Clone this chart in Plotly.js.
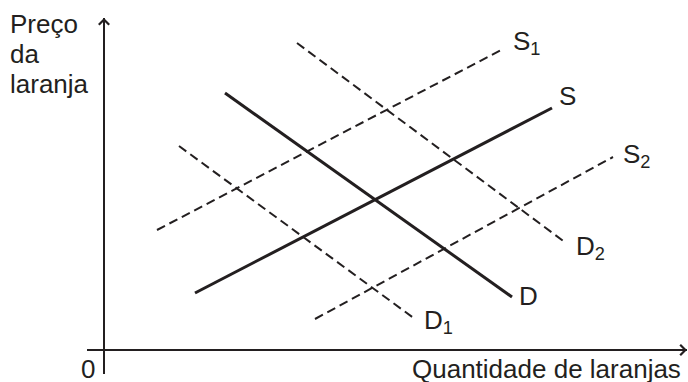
<!DOCTYPE html>
<html>
<head>
<meta charset="utf-8">
<script src="https://cdn.plot.ly/plotly-3.0.1.min.js"></script>
<style>
  body { margin: 0; background: #fff; }
  #chart { width: 688px; height: 382px; }
</style>
</head>
<body>
<div id="chart"></div>
<script>
// Curve endpoints (quantity, price)
const curveNames = ['S', 'D', 'S1', 'S2', 'D1', 'D2'];
const curveX = [
    [9.1, 44.8],   // S
    [12.1, 40.8],  // D
    [5.3, 39.9],   // S1
    [21.1, 50.9],  // S2
    [7.5, 31.1],   // D1
    [19.3, 46.2],  // D2
];
const curveY = [
    [5.7, 24.2],
    [25.7, 5.3],
    [12.0, 30.1],
    [3.1, 19.3],
    [20.4, 3.1],
    [30.7, 10.7],
];
const curveDashed = [false, false, true, true, true, true];

// Curve labels
const labelText = ['S', 'D', 'S<sub>1</sub>', 'S<sub>2</sub>', 'D<sub>1</sub>', 'D<sub>2</sub>'];
const labelX = [45.3, 41.3, 40.7, 51.7, 31.8, 47.0];
const labelY = [25.4, 5.4, 30.8, 19.5, 2.9, 10.3];

// y axis title, one line each
const yTitleLines = ['Preço', 'da', 'laranja'];

const ink = '#231f20';
const font = { family: '"Liberation Sans", Arial, sans-serif', size: 26, color: ink };

const traces = curveNames.map(function (name, i) {
    return {
        x: curveX[i],
        y: curveY[i],
        name: name,
        mode: 'lines',
        type: 'scatter',
        hoverinfo: 'skip',
        line: {
            color: ink,
            width: curveDashed[i] ? 2 : 3,
            dash: curveDashed[i] ? '9px,5px' : 'solid',
        },
    };
});

const annotations = labelText.map(function (t, i) {
    return {
        x: labelX[i], y: labelY[i], xref: 'x', yref: 'y',
        text: t, showarrow: false, xanchor: 'left', yanchor: 'middle',
        font: font,
    };
});

// axis arrows
annotations.push({
    x: 0, y: 33.2, ax: 0, ay: 30, xref: 'x', yref: 'y', axref: 'x', ayref: 'y',
    text: '', showarrow: true, arrowhead: 4, arrowsize: 1, arrowwidth: 2, arrowcolor: ink, standoff: 0,
});
annotations.push({
    x: 58.3, y: 0, ax: 55, ay: 0, xref: 'x', yref: 'y', axref: 'x', ayref: 'y',
    text: '', showarrow: true, arrowhead: 4, arrowsize: 1, arrowwidth: 2, arrowcolor: ink, standoff: 0,
});

// axis titles
yTitleLines.forEach(function (t, i) {
    annotations.push({
        x: -0.132, y: 0.982 - i * 0.083, xref: 'paper', yref: 'paper',
        xanchor: 'left', yanchor: 'middle', align: 'left',
        text: t, showarrow: false, font: font,
    });
});
annotations.push({
    x: 57.9, y: -1.9, xref: 'x', yref: 'y', xanchor: 'right', yanchor: 'middle',
    text: 'Quantidade de laranjas', showarrow: false, font: font,
});
annotations.push({
    x: -1.6, y: -1.9, xref: 'x', yref: 'y', xanchor: 'center', yanchor: 'middle',
    text: '0', showarrow: false, font: font,
});

const layout = {
    width: 688,
    height: 382,
    margin: { l: 87, r: 1, t: 18, b: 8 },
    paper_bgcolor: '#ffffff',
    plot_bgcolor: '#ffffff',
    showlegend: false,
    xaxis: {
        range: [-1.7, 58.3], showgrid: false, showticklabels: false, ticks: '',
        zeroline: true, zerolinecolor: ink, zerolinewidth: 2, fixedrange: true,
    },
    yaxis: {
        range: [-2.4, 33.2], showgrid: false, showticklabels: false, ticks: '',
        zeroline: true, zerolinecolor: ink, zerolinewidth: 2, fixedrange: true,
    },
    annotations: annotations,
};

Plotly.newPlot('chart', traces, layout, { displayModeBar: false, staticPlot: true });
</script>
</body>
</html>
